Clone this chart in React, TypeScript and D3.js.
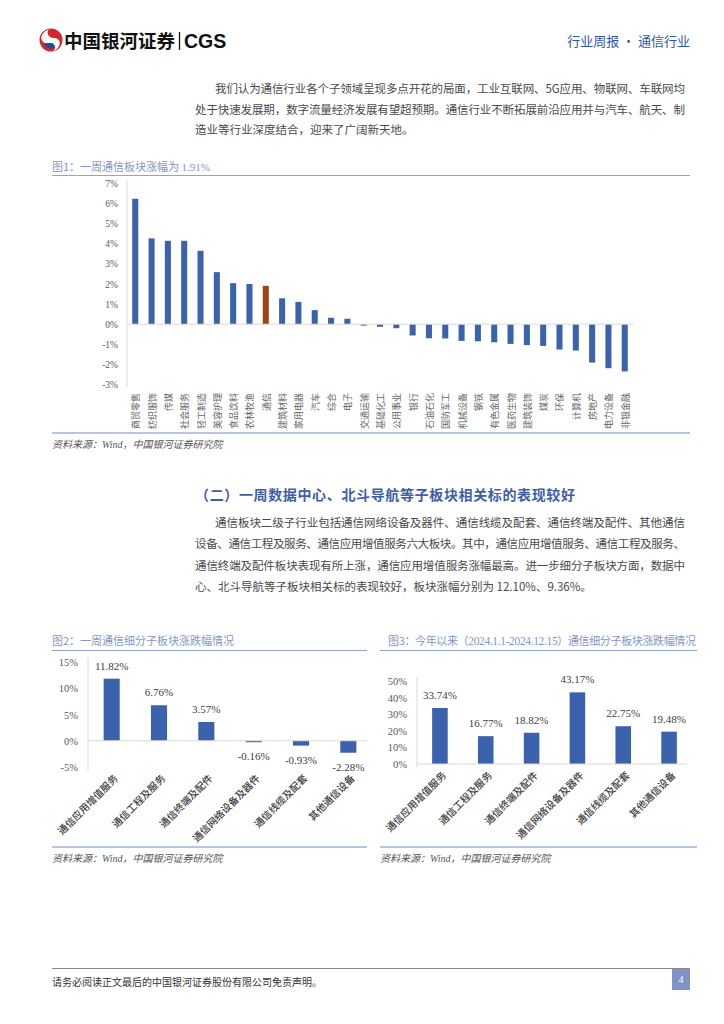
import React from 'react';
import * as d3 from 'd3';

// 图1 一周申万一级行业涨跌幅
const industries = ['商贸零售', '纺织服饰', '传媒', '社会服务', '轻工制造', '美容护理', '食品饮料', '农林牧渔', '通信', '建筑材料', '家用电器', '汽车', '综合', '电子', '交通运输', '基础化工', '公用事业', '银行', '石油石化', '国防军工', '机械设备', '钢铁', '有色金属', '医药生物', '建筑装饰', '煤炭', '环保', '计算机', '房地产', '电力设备', '非银金融'];
const industryChg = [6.24, 4.27, 4.15, 4.15, 3.65, 2.59, 2.04, 2.0, 1.91, 1.29, 1.11, 0.7, 0.32, 0.27, -0.07, -0.13, -0.2, -0.56, -0.7, -0.71, -0.83, -0.85, -0.9, -0.98, -1.04, -1.08, -1.26, -1.31, -1.91, -2.19, -2.35];
const ticks1 = [7, 6, 5, 4, 3, 2, 1, 0, -1, -2, -3];

// 图2 / 图3 通信细分子板块
const subSectors = ['通信应用增值服务', '通信工程及服务', '通信终端及配件', '通信网络设备及器件', '通信线缆及配套', '其他通信设备'];
const weekChg = [11.82, 6.76, 3.57, -0.16, -0.93, -2.28];
const ytdChg = [33.74, 16.77, 18.82, 43.17, 22.75, 19.48];
const ticks2 = [15, 10, 5, 0, -5];
const ticks3 = [50, 40, 30, 20, 10, 0];

const para1 = [
  '我们认为通信行业各个子领域呈现多点开花的局面，工业互联网、5G应用、物联网、车联网均',
  '处于快速发展期，数字流量经济发展有望超预期。通信行业不断拓展前沿应用并与汽车、航天、制',
  '造业等行业深度结合，迎来了广阔新天地。',
];
const para2 = [
  '通信板块二级子行业包括通信网络设备及器件、通信线缆及配套、通信终端及配件、其他通信',
  '设备、通信工程及服务、通信应用增值服务六大板块。其中，通信应用增值服务、通信工程及服务、',
  '通信终端及配件板块表现有所上涨，通信应用增值服务涨幅最高。进一步细分子板块方面，数据中',
  '心、北斗导航等子板块相关标的表现较好，板块涨幅分别为 12.10%、9.36%。',
];

const BLUE = '#3b63ad';
const HILITE = '#9c4513';
const CJK = '"Noto Sans CJK SC", sans-serif';
const NUM = '"Liberation Serif", "Noto Sans CJK SC", serif';
const TITLE = '#8197c7';
const LINE = '#8ea3d3';
const SRC_LINE = '#b7c5e4';

const fmt = (v: number) => `${v.toFixed(2)}%`;

const Paragraph: React.FC<{ lines: string[]; y0: number; step: number }> = ({ lines, y0, step }) => (
  <g fontFamily={CJK} fontSize={11.5} fill="#4a4a4a">
    {lines.map((t, i) => {
      const x = i === 0 ? 215 : 195;
      const last = i === lines.length - 1;
      return (
        <text key={i} x={x} y={y0 + i * step}
          textLength={last ? undefined : 685 - x} lengthAdjust="spacing">
          {t}
        </text>
      );
    })}
  </g>
);

const Source: React.FC<{ x: number; x2: number; y: number }> = ({ x, x2, y }) => (
  <g>
    <line x1={x} x2={x2} y1={y} y2={y} stroke={SRC_LINE} strokeWidth={2} />
    <text x={x} y={y + 15} fontFamily={CJK} fontStyle="italic" fontSize={10} fill="#555">
      资料来源：<tspan fontFamily={NUM}>Wind</tspan>，中国银河证券研究院
    </text>
  </g>
);

const Chart1: React.FC = () => {
  const x = d3.scaleBand<string>().domain(industries).range([127, 633]).paddingInner(0.63).paddingOuter(0.32);
  const y = d3.scaleLinear().domain([-3, 7]).range([384.5, 183.5]);
  return (
    <g>
      <text x={52} y={171} fontFamily={CJK} fontSize={11} fill={TITLE}>
        图1：一周通信板块涨幅为 <tspan fontFamily={NUM}>1.91%</tspan>
      </text>
      <line x1={52} x2={690} y1={175.5} y2={175.5} stroke={LINE} strokeWidth={1.2} />
      <line x1={127} x2={127} y1={180} y2={387} stroke="#d9d9d9" />
      {ticks1.map(t => (
        <text key={t} x={118} y={y(t) + 3.5} textAnchor="end" fontFamily={NUM} fontSize={9.5} fill="#595959">
          {t}%
        </text>
      ))}
      {industries.map((c, i) => {
        const v = industryChg[i];
        return (
          <rect key={c} x={x(c)} width={x.bandwidth()} y={Math.min(y(v), y(0))}
            height={Math.abs(y(v) - y(0))} fill={c === '通信' ? HILITE : BLUE} />
        );
      })}
      <line x1={127} x2={633} y1={y(0)} y2={y(0)} stroke="#d9d9d9" />
      {industries.map(c => {
        const cx = (x(c) as number) + x.bandwidth() / 2;
        return (
          <text key={c} transform={`translate(${cx + 0.5},393) rotate(-90)`} textAnchor="end"
            dominantBaseline="central" fontFamily={CJK} fontSize={9} fill="#666">
            {c}
          </text>
        );
      })}
      <Source x={52} x2={690} y={433} />
    </g>
  );
};

const SubChart: React.FC<{
  values: number[]; ticks: number[]; domain: [number, number];
  x0: number; x1: number; yTop: number; yBottom: number; tickX: number; lblY: number;
}> = ({ values, ticks, domain, x0, x1, yTop, yBottom, tickX, lblY }) => {
  const x = d3.scaleBand<string>().domain(subSectors).range([x0, x1]).paddingInner(0.66).paddingOuter(0.33);
  const y = d3.scaleLinear().domain(domain).range([yBottom, yTop]);
  return (
    <g>
      <line x1={x0} x2={x0} y1={yTop - 4} y2={yBottom + 3} stroke="#d9d9d9" />
      {ticks.map(t => (
        <text key={t} x={tickX} y={y(t) + 4} textAnchor="end" fontFamily={NUM} fontSize={10.5} fill="#595959">
          {t}%
        </text>
      ))}
      {subSectors.map((c, i) => {
        const v = values[i];
        const cx = (x(c) as number) + x.bandwidth() / 2;
        return (
          <g key={c}>
            <rect x={x(c)} width={x.bandwidth()} y={Math.min(y(v), y(0))}
              height={Math.max(1.5, Math.abs(y(v) - y(0)))} fill={BLUE} />
            <text x={cx} y={v >= 0 ? y(v) - 9 : y(v) + 18} textAnchor="middle"
              fontFamily={NUM} fontSize={11} fill="#404040">
              {fmt(v)}
            </text>
            <text transform={`translate(${cx + 7},${lblY}) rotate(-45)`} textAnchor="end"
              fontFamily={CJK} fontSize={10} fontWeight={500} fill="#404040">
              {c}
            </text>
          </g>
        );
      })}
      <line x1={x0} x2={x1 - 5} y1={y(0)} y2={y(0)} stroke="#d9d9d9" />
    </g>
  );
};

const Logo: React.FC = () => (
  <g transform="translate(51,40)">
    <circle r={11.5} fill="#d7262b" />
    <path d="M -2,-11 C -13,-6 -11,4 -3,3 C 4,2 7,8 1,12 C 11,8 11,-2 3,-2 C -3,-2 -5,-8 -2,-11 Z" fill="#ffffff" />
    <path d="M -7,5 C -2,10 5,10 3,5 C 2,2 -4,3 -7,5 Z" fill="#1d4f9c" />
  </g>
);

const App: React.FC = () => (
  <div style={{ position: 'absolute', left: 0, top: 0 }}>
    <svg width={724} height={1024} style={{ display: 'block', background: '#fff' }}>
      {/* header */}
      <Logo />
      <text x={64} y={48} fontFamily={CJK} fontWeight={700} fontSize={18.5} fill="#111">中国银河证券</text>
      <line x1={179.5} x2={179.5} y1={32} y2={50} stroke="#111" strokeWidth={1.3} />
      <text x={184} y={48} fontFamily='"Liberation Sans", Arial, sans-serif' fontWeight={700} fontSize={19.5} fill="#111">CGS</text>
      <text x={690} y={46} textAnchor="end" fontFamily={CJK} fontSize={13} fill="#2f56a6">行业周报 · 通信行业</text>

      <Paragraph lines={para1} y0={93} step={20.5} />

      <Chart1 />

      <text x={195} y={500} fontFamily={CJK} fontWeight={700} fontSize={14} fill="#3e5ea8"
        textLength={380} lengthAdjust="spacing">
        （二）一周数据中心、北斗导航等子板块相关标的表现较好
      </text>

      <Paragraph lines={para2} y0={527} step={21.3} />

      {/* 图2 */}
      <text x={52} y={645} fontFamily={CJK} fontSize={11} fill={TITLE}>
        图2：一周通信细分子板块涨跌幅情况
      </text>
      <line x1={52} x2={367} y1={650.5} y2={650.5} stroke={LINE} strokeWidth={1.2} />
      <SubChart values={weekChg} ticks={ticks2} domain={[-5, 15]} x0={88} x1={372}
        yTop={662} yBottom={767} tickX={78} lblY={779} />
      <Source x={52} x2={367} y={847} />

      {/* 图3 */}
      <text x={388} y={645} fontFamily={CJK} fontSize={11} fill={TITLE}
        textLength={308} lengthAdjust="spacing">
        图3：今年以来（<tspan fontFamily={NUM} fontSize={11.5}>2024.1.1-2024.12.15</tspan>）通信细分子板块涨跌幅情况
      </text>
      <line x1={380} x2={697} y1={650.5} y2={650.5} stroke={LINE} strokeWidth={1.2} />
      <SubChart values={ytdChg} ticks={ticks3} domain={[0, 50]} x0={417} x1={692}
        yTop={681} yBottom={764} tickX={407} lblY={776} />
      <Source x={380} x2={697} y={847} />

      {/* footer */}
      <line x1={52} x2={690} y1={968.5} y2={968.5} stroke="#888" />
      <text x={52} y={986} fontFamily={CJK} fontSize={10} fill="#333">
        请务必阅读正文最后的中国银河证券股份有限公司免责声明。
      </text>
      <rect x={672} y={969} width={18} height={21} fill="#7f93c6" />
      <text x={681} y={983} textAnchor="middle" fontFamily={NUM} fontSize={10} fill="#fff">4</text>
    </svg>
  </div>
);

export default App;
